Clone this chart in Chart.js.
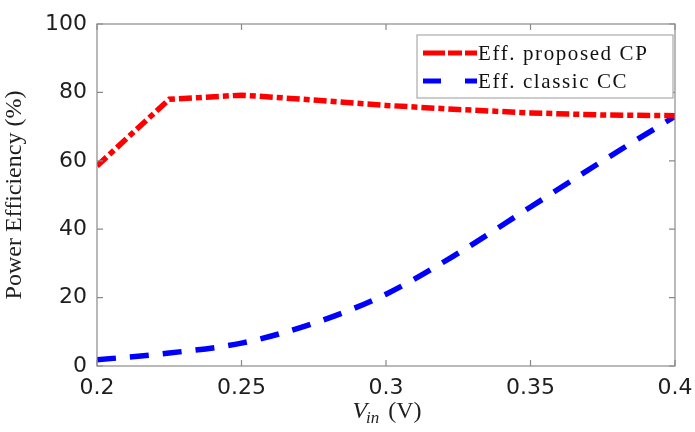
<!DOCTYPE html>
<html>
<head>
<meta charset="utf-8">
<script src="https://cdn.jsdelivr.net/npm/chart.js@4/dist/chart.umd.min.js"></script>
<style>
  html, body { margin: 0; padding: 0; background: #ffffff; }
  #wrap { width: 695px; height: 432px; }
</style>
</head>
<body>
<div id="wrap"><canvas id="effChart" width="695" height="432"></canvas></div>
<script>
// input voltages (V)
const vin = [0.2, 0.225, 0.25, 0.275, 0.3, 0.325, 0.35, 0.375, 0.4];
// efficiency of proposed charge pump (%)
const effProposed = [58.5, 78, 79.2, 77.8, 76.2, 75, 74, 73.4, 73.2];
// efficiency of classic cross-coupled (%)
const effClassic = [1.8, 3.8, 6.7, 12.5, 21, 33, 46.5, 60, 73];
const yTicks = [0, 20, 40, 60, 80, 100];
const xTicks = [0.2, 0.25, 0.3, 0.35, 0.4];

const toPoints = (ys) => vin.map((v, i) => ({ x: v, y: ys[i] }));

const AXIS_GREY = "#8a8a8a";
const TEXT_COL = "#1e1e1e";
const SERIF = "'Liberation Serif', 'DejaVu Serif', serif";
const SANS = "'DejaVu Sans', sans-serif";

// box around the plot with inward tick marks, legend and x title
const framePlugin = {
    id: "frame",
    afterDraw(chart) {
        const c = chart.ctx;
        const a = chart.chartArea;
        const xs = chart.scales.x, ys = chart.scales.y;
        c.save();
        c.strokeStyle = AXIS_GREY;
        c.lineWidth = 1.2;
        c.strokeRect(a.left, a.top, a.right - a.left, a.bottom - a.top);
        const t = 6;
        c.beginPath();
        xTicks.forEach(v => {
            const px = xs.getPixelForValue(v);
            c.moveTo(px, a.bottom); c.lineTo(px, a.bottom - t);
            c.moveTo(px, a.top); c.lineTo(px, a.top + t);
        });
        yTicks.forEach(v => {
            const py = ys.getPixelForValue(v);
            c.moveTo(a.left, py); c.lineTo(a.left + t, py);
            c.moveTo(a.right, py); c.lineTo(a.right - t, py);
        });
        c.stroke();

        // legend
        const lx = 417, ly = 35, lw = 256, lh = 63;
        c.fillStyle = "#ffffff";
        c.fillRect(lx, ly, lw, lh);
        c.strokeStyle = "#999999";
        c.lineWidth = 1;
        c.strokeRect(lx, ly, lw, lh);
        chart.data.datasets.forEach((ds, i) => {
            const rowY = ly + 18 + i * 28;
            c.strokeStyle = ds.borderColor;
            c.lineWidth = 5;
            c.setLineDash(ds.legendDash);
            c.beginPath();
            c.moveTo(lx + 6, rowY);
            c.lineTo(lx + 60, rowY);
            c.stroke();
            c.setLineDash([]);
            c.fillStyle = "#111111";
            c.font = "21px " + SERIF;
            c.letterSpacing = "1.6px";
            c.textBaseline = "middle";
            c.textAlign = "left";
            c.fillText(ds.label, lx + 61, rowY + 1);
            c.letterSpacing = "0px";
        });

        // x axis title: V_in (V)
        const cx = (a.left + a.right) / 2;
        const ty = 418;
        c.fillStyle = TEXT_COL;
        c.textBaseline = "alphabetic";
        c.font = "italic 24px " + SERIF;
        const w1 = c.measureText("V").width;
        c.font = "italic 17px " + SERIF;
        const w2 = c.measureText("in").width;
        c.font = "24px " + SERIF;
        const w3 = c.measureText(" (V)").width;
        let x0 = cx - (w1 + w2 + w3) / 2;
        c.font = "italic 24px " + SERIF;
        c.fillText("V", x0, ty);
        c.font = "italic 17px " + SERIF;
        c.fillText("in", x0 + w1 - 1, ty + 5);
        c.font = "24px " + SERIF;
        c.fillText(" (V)", x0 + w1 + w2 + 2, ty);
        c.restore();
    }
};

new Chart(document.getElementById("effChart").getContext("2d"), {
    type: "line",
    data: {
        datasets: [{
            label: "Eff. proposed CP",
            data: toPoints(effProposed),
            borderColor: "#ff0000",
            borderWidth: 5.5,
            borderDash: [13, 4, 6, 4],
            legendDash: [22, 3, 14, 3, 12, 3],
            pointRadius: 0,
            tension: 0,
            fill: false
        }, {
            label: "Eff. classic CC",
            data: toPoints(effClassic),
            borderColor: "#0000ff",
            borderWidth: 5.5,
            borderDash: [19, 14],
            legendDash: [18, 24, 14, 4],
            pointRadius: 0,
            cubicInterpolationMode: "monotone",
            fill: false
        }]
    },
    options: {
        responsive: false,
        animation: false,
        layout: { padding: { top: 24, right: 20, left: 0, bottom: 0 } },
        plugins: { legend: { display: false }, tooltip: { enabled: false } },
        scales: {
            x: {
                type: "linear",
                min: 0.2, max: 0.4,
                afterBuildTicks: (s) => { s.ticks = xTicks.map(v => ({ value: v })); },
                afterFit: (s) => { s.height = 66; s.paddingLeft = 0; s.paddingRight = 0; },
                grid: { display: false, drawTicks: false },
                border: { display: false },
                ticks: {
                    color: TEXT_COL,
                    font: { family: SANS, size: 22 },
                    padding: 9,
                    maxRotation: 0,
                    callback: (v) => String(Number(v.toFixed(2)))
                }
            },
            y: {
                min: 0, max: 100,
                afterBuildTicks: (s) => { s.ticks = yTicks.map(v => ({ value: v })); },
                afterFit: (s) => { s.width = 97; s.paddingTop = 0; s.paddingBottom = 0; },
                grid: { display: false, drawTicks: false },
                border: { display: false },
                title: {
                    display: true,
                    text: "Power Efficiency (%)",
                    color: TEXT_COL,
                    font: { family: SERIF, size: 24 },
                    padding: { top: 0, bottom: 0 }
                },
                ticks: {
                    color: TEXT_COL,
                    font: { family: SANS, size: 22 },
                    padding: 10
                }
            }
        }
    },
    plugins: [framePlugin]
});
</script>
</body>
</html>
